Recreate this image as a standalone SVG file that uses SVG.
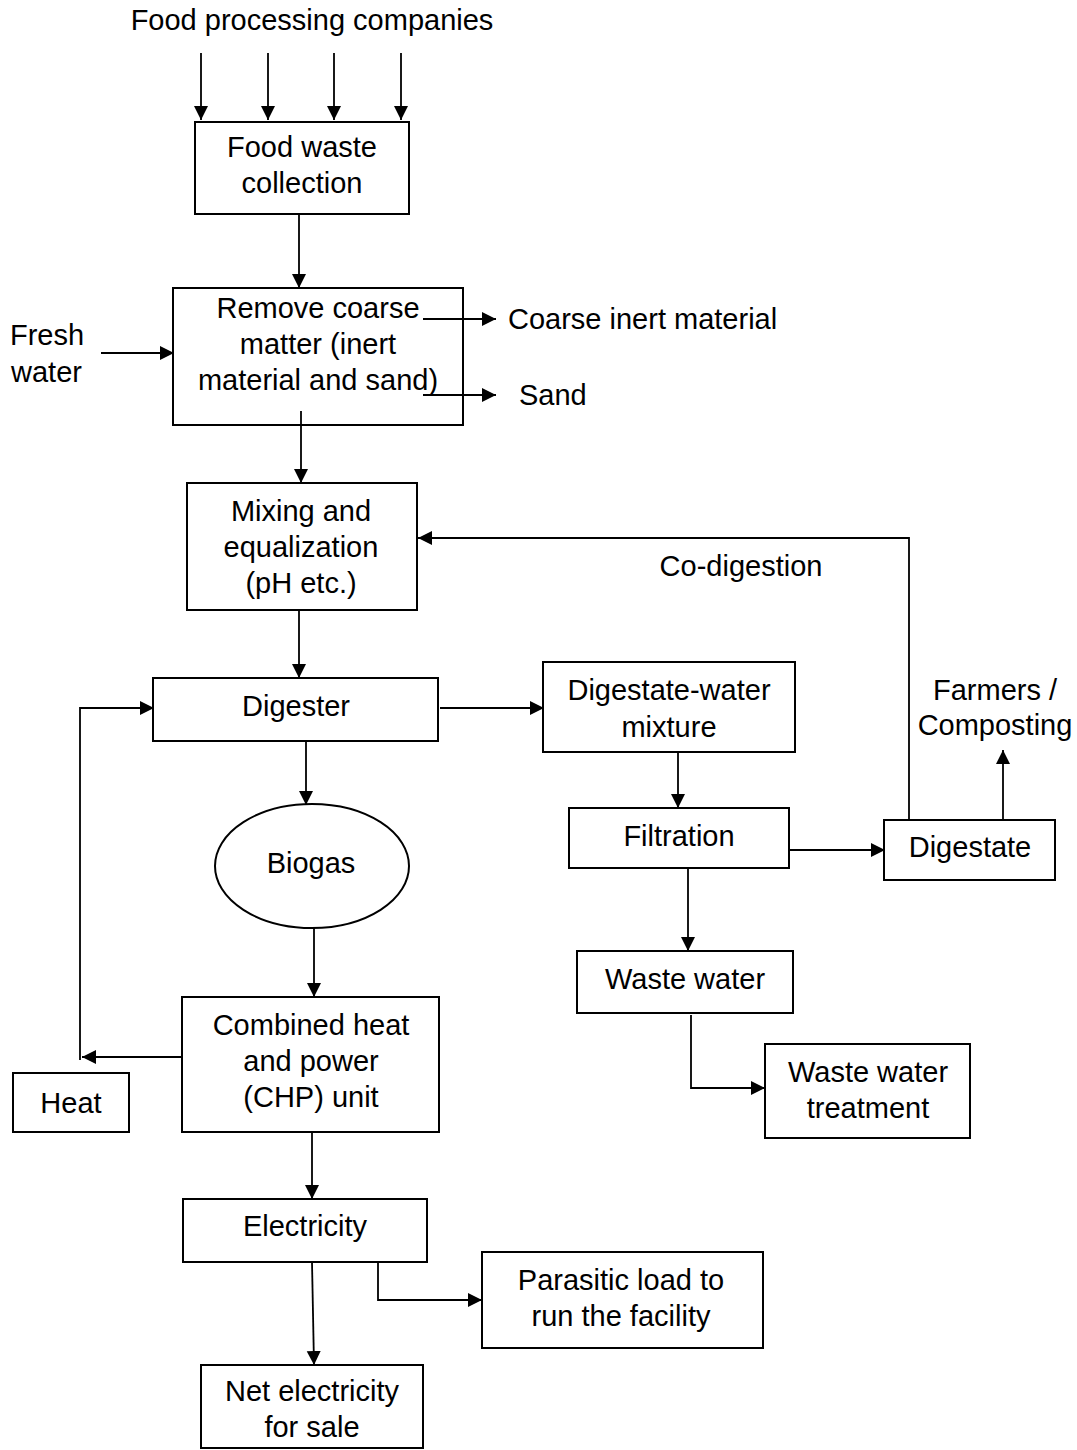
<svg xmlns="http://www.w3.org/2000/svg" width="1077" height="1450" viewBox="0 0 1077 1450">
<style>
text{font-family:"Liberation Sans",Arial,sans-serif;font-size:29px;fill:#000;text-anchor:middle}
.l{text-anchor:start}
.box{fill:#fff;stroke:#000;stroke-width:2}
.c{fill:none;stroke:#000;stroke-width:1.8}
</style>
<defs>
<marker id="ah" markerUnits="userSpaceOnUse" markerWidth="16" markerHeight="16" refX="14" refY="7" orient="auto">
<path d="M0,0 L14,7 L0,14 z" fill="#000"/>
</marker>
</defs>
<g id="connectors">
<path class="c" d="M201,53 V120" marker-end="url(#ah)"/>
<path class="c" d="M268,53 V120" marker-end="url(#ah)"/>
<path class="c" d="M334,53 V120" marker-end="url(#ah)"/>
<path class="c" d="M401,53 V120" marker-end="url(#ah)"/>
<path class="c" d="M299,214 V288" marker-end="url(#ah)"/>
<path class="c" d="M101,353 H174" marker-end="url(#ah)"/>
<path class="c" d="M423,319 H496" marker-end="url(#ah)"/>
<path class="c" d="M423,395 H496" marker-end="url(#ah)"/>
<path class="c" d="M301,411 V483" marker-end="url(#ah)"/>
<path class="c" d="M909,820 V538 H418" marker-end="url(#ah)"/>
<path class="c" d="M299,610 V678" marker-end="url(#ah)"/>
<path class="c" d="M182,1057 H82" marker-end="url(#ah)"/>
<path class="c" d="M80,1060 V708 H154" marker-end="url(#ah)"/>
<path class="c" d="M306,741 V805" marker-end="url(#ah)"/>
<path class="c" d="M314,928 V997" marker-end="url(#ah)"/>
<path class="c" d="M312,1132 V1199" marker-end="url(#ah)"/>
<path class="c" d="M312,1262 L314,1365" marker-end="url(#ah)"/>
<path class="c" d="M378,1262 V1300 H482" marker-end="url(#ah)"/>
<path class="c" d="M440,708 H544" marker-end="url(#ah)"/>
<path class="c" d="M678,752 V808" marker-end="url(#ah)"/>
<path class="c" d="M789,850 H885" marker-end="url(#ah)"/>
<path class="c" d="M1003,820 V750" marker-end="url(#ah)"/>
<path class="c" d="M688,868 V951" marker-end="url(#ah)"/>
<path class="c" d="M691,1015 V1088 H765" marker-end="url(#ah)"/>
</g>
<g id="labels">
<text x="312" y="30">Food processing companies</text>
<text class="l" x="10" y="345">Fresh</text>
<text class="l" x="11" y="382">water</text>
<text class="l" x="508" y="329">Coarse inert material</text>
<text class="l" x="519" y="405">Sand</text>
<text x="741" y="576">Co-digestion</text>
<text x="995" y="700">Farmers /</text>
<text x="995" y="735">Composting</text>
</g>
<g id="food-waste-collection">
<rect class="box" x="195" y="122" width="214" height="92"/>
<text x="302" y="157">Food waste</text>
<text x="302" y="193">collection</text>
</g>
<g id="remove-coarse">
<rect class="box" x="173" y="288" width="290" height="137" fill-opacity="0"/>
<text x="318" y="318">Remove coarse</text>
<text x="318" y="354">matter (inert</text>
<text x="318" y="390">material and sand)</text>
</g>
<g id="mixing">
<rect class="box" x="187" y="483" width="230" height="127"/>
<text x="301" y="521">Mixing and</text>
<text x="301" y="557">equalization</text>
<text x="301" y="593">(pH etc.)</text>
</g>
<g id="digester">
<rect class="box" x="153" y="678" width="285" height="63"/>
<text x="296" y="716">Digester</text>
</g>
<g id="biogas">
<ellipse class="box" cx="312" cy="866" rx="97" ry="62"/>
<text x="311" y="873">Biogas</text>
</g>
<g id="chp">
<rect class="box" x="182" y="997" width="257" height="135"/>
<text x="311" y="1035">Combined heat</text>
<text x="311" y="1071">and power</text>
<text x="311" y="1107">(CHP) unit</text>
</g>
<g id="heat">
<rect class="box" x="13" y="1073" width="116" height="59"/>
<text x="71" y="1113">Heat</text>
</g>
<g id="electricity">
<rect class="box" x="183" y="1199" width="244" height="63"/>
<text x="305" y="1236">Electricity</text>
</g>
<g id="net-electricity">
<rect class="box" x="201" y="1365" width="222" height="83"/>
<text x="312" y="1401">Net electricity</text>
<text x="312" y="1437">for sale</text>
</g>
<g id="parasitic">
<rect class="box" x="482" y="1252" width="281" height="96"/>
<text x="621" y="1290">Parasitic load to</text>
<text x="621" y="1326">run the facility</text>
</g>
<g id="digestate-water">
<rect class="box" x="543" y="662" width="252" height="90"/>
<text x="669" y="700">Digestate-water</text>
<text x="669" y="737">mixture</text>
</g>
<g id="filtration">
<rect class="box" x="569" y="808" width="220" height="60"/>
<text x="679" y="846">Filtration</text>
</g>
<g id="digestate">
<rect class="box" x="884" y="820" width="171" height="60"/>
<text x="970" y="857">Digestate</text>
</g>
<g id="waste-water">
<rect class="box" x="577" y="951" width="216" height="62"/>
<text x="685" y="989">Waste water</text>
</g>
<g id="waste-water-treatment">
<rect class="box" x="765" y="1044" width="205" height="94"/>
<text x="868" y="1082">Waste water</text>
<text x="868" y="1118">treatment</text>
</g>
</svg>
